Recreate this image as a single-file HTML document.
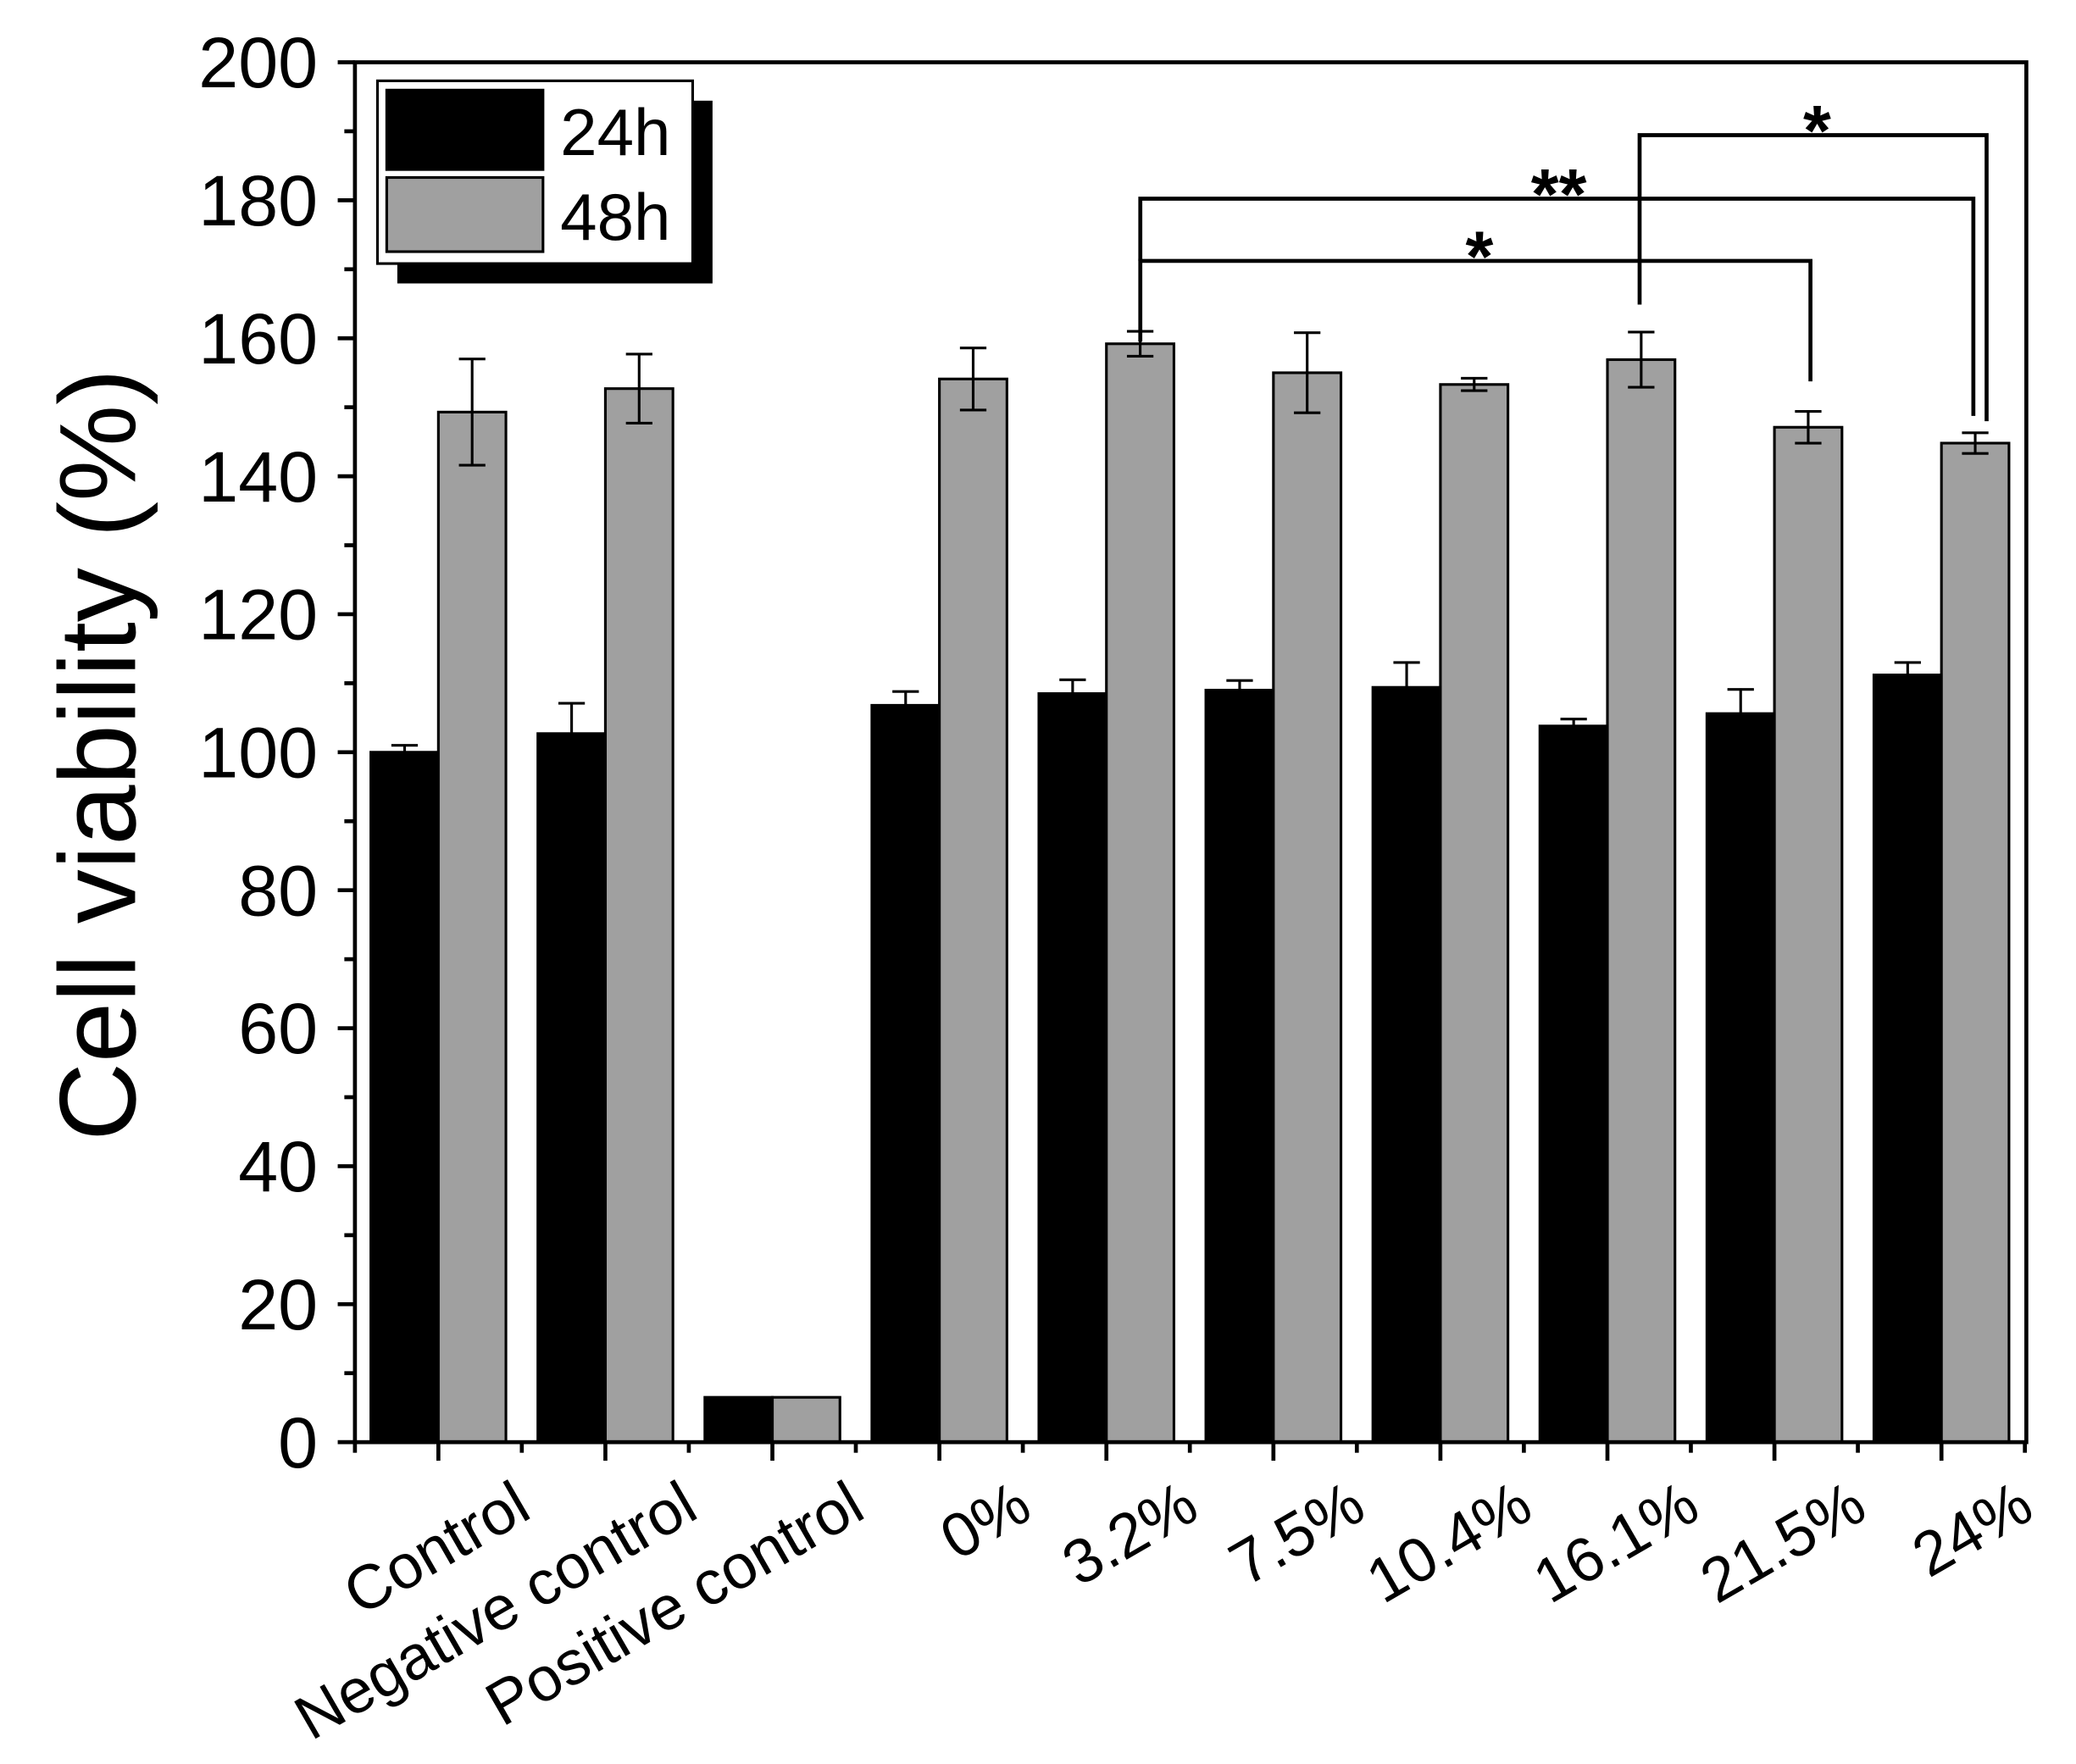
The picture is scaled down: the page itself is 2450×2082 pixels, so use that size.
<!DOCTYPE html>
<html><head><meta charset="utf-8"><style>html,body{margin:0;padding:0;background:#fff}svg{display:block}</style></head>
<body>
<svg width="2450" height="2082" viewBox="0 0 1567.5 1332" xmlns="http://www.w3.org/2000/svg" font-family="Liberation Sans, Arial, sans-serif">
<rect width="1568" height="1332" fill="#fff"/>
<g id="bars" stroke="#000" stroke-width="2"></g>
<g id="ax" stroke="#000" stroke-width="3" fill="none">
<rect x="268" y="47" width="1262" height="1042"/>
</g>
<g id="ticks" stroke="#000" stroke-width="3"></g>
<g id="lbl" font-size="54" text-anchor="end"></g>
<text transform="translate(102,570) rotate(-90)" font-size="82" text-anchor="middle">Cell viability (%)</text>
<rect x="300" y="76" width="238" height="138" fill="#000"/>
<rect x="285" y="61" width="238" height="138" fill="#fff" stroke="#000" stroke-width="2"/>
<rect x="292" y="68" width="118" height="60" fill="#000" stroke="#000" stroke-width="2"/>
<rect x="292" y="134" width="118" height="56" fill="#a0a0a0" stroke="#000" stroke-width="2"/>
<text x="423" y="117" font-size="50">24h</text>
<text x="423" y="181" font-size="50">48h</text>
<g stroke="#000" stroke-width="3" fill="none">
<polyline points="861,258 861,197 1367,197 1367,288"/>
<polyline points="861,197 861,150 1490,150 1490,314"/>
<polyline points="1238,230 1238,102 1500,102 1500,318"/>
</g>
<g font-size="54" font-weight="bold" text-anchor="middle">
<text x="1117" y="212">*</text>
<text x="1177" y="165">**</text>
<text x="1372" y="117">*</text>
</g>
<script>
const ns="http://www.w3.org/2000/svg";
function el(p,t,a,txt){const e=document.createElementNS(ns,t);for(const k in a)e.setAttribute(k,a[k]);if(txt!==undefined)e.textContent=txt;document.getElementById(p).appendChild(e);}
const y=v=>1089-v*5.21;
const cats=["Control","Negative control","Positive control","0%","3.2%","7.5%","10.4%","16.1%","21.5%","24%"];
const b=[100,102.7,6.5,106.8,108.5,109,109.4,103.8,105.6,111.2];
const be=[1,4.4,0,2,2,1.4,3.6,1,3.5,1.8];
const g=[149.3,152.7,6.5,154.1,159.2,155,153.3,156.9,147.1,144.8];
const ge=[7.7,5,0,4.5,1.8,5.8,0.9,4,2.3,1.5];
cats.forEach((c,i)=>{const cx=331+i*126.1;
el("bars","rect",{x:cx-51,y:y(b[i]),width:51,height:1089-y(b[i]),fill:"#000"});
el("bars","rect",{x:cx,y:y(g[i]),width:51,height:1089-y(g[i]),fill:"#a0a0a0"});
[[cx-25.5,b[i],be[i]],[cx+25.5,g[i],ge[i]]].forEach(([x,v,e])=>{if(e>0){el("bars","line",{x1:x,x2:x,y1:y(v+e),y2:y(v-e)});el("bars","line",{x1:x-10,x2:x+10,y1:y(v+e),y2:y(v+e)});el("bars","line",{x1:x-10,x2:x+10,y1:y(v-e),y2:y(v-e)});}});
el("ticks","line",{x1:cx,x2:cx,y1:1089,y2:1103});
el("ticks","line",{x1:cx+63,x2:cx+63,y1:1089,y2:1097});
const t=document.createElementNS(ns,"text");t.setAttribute("transform",`translate(${cx+72},${1145}) rotate(-30)`);t.setAttribute("font-size","47");t.setAttribute("text-anchor","end");t.textContent=c;document.getElementById("lbl").appendChild(t);
});
el("ticks","line",{x1:268,x2:268,y1:1089,y2:1097});
for(let v=0;v<=200;v+=10){const yy=y(v);el("ticks","line",{x1:v%20?260:255,x2:268,y1:yy,y2:yy});
if(v%20==0)el("lbl","text",{x:240,y:yy+19},String(v));}
</script>
</svg>
</body></html>
